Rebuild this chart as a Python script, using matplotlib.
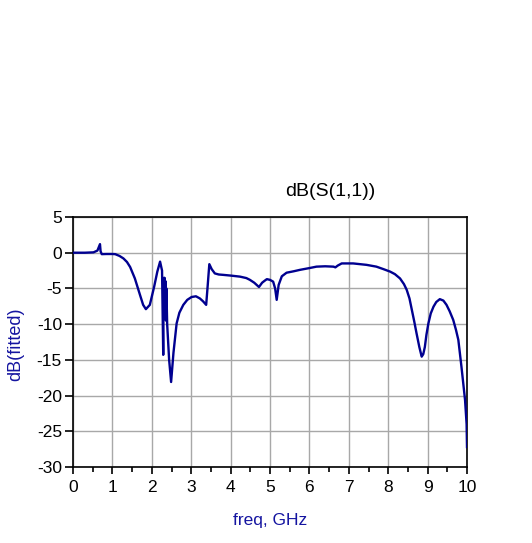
import matplotlib
matplotlib.use("Agg")
import matplotlib.pyplot as plt
from matplotlib.ticker import MultipleLocator

plt.rcParams['font.family'] = ['Liberation Sans', 'DejaVu Sans']
plt.rcParams['axes.unicode_minus'] = False

freq_ghz = [0.0, 0.3, 0.52, 0.62, 0.685, 0.70, 0.73, 0.85, 1.0, 1.07, 1.18, 1.28, 1.37,
            1.45, 1.57, 1.70, 1.78, 1.85, 1.95, 2.06, 2.14, 2.21, 2.26, 2.29, 2.30,
            2.315, 2.32, 2.33, 2.34, 2.35, 2.36, 2.37, 2.39, 2.44, 2.49, 2.55, 2.63,
            2.7, 2.8, 2.9, 3.01, 3.12, 3.22, 3.3, 3.38, 3.42, 3.46, 3.52, 3.6, 3.7,
            3.81, 4.0, 4.24, 4.4, 4.49, 4.6, 4.72, 4.8, 4.87, 4.92, 5.0, 5.08, 5.13,
            5.17, 5.22, 5.30, 5.42, 5.6, 5.76, 6.0, 6.18, 6.4, 6.61, 6.66, 6.72,
            6.82, 7.11, 7.45, 7.7, 7.88, 8.05, 8.17, 8.30, 8.40, 8.47, 8.54, 8.60,
            8.66, 8.72, 8.79, 8.85, 8.89, 8.93, 8.97, 9.02, 9.08, 9.15, 9.22, 9.31,
            9.40, 9.48, 9.56, 9.65, 9.72, 9.78, 9.86, 9.95, 9.99, 10.0]
s11_db = [0.0, 0.0, 0.05, 0.3, 1.2, 0.2, -0.2, -0.18, -0.18, -0.2, -0.45, -0.8, -1.3,
          -2.0, -3.6, -5.9, -7.3, -7.9, -7.3, -4.75, -2.65, -1.25, -2.5, -14.3, -5.0,
          -3.5, -8.0, -3.6, -9.0, -4.0, -9.5, -5.0, -10.0, -15.0, -18.1, -14.0, -9.9,
          -8.4, -7.3, -6.6, -6.2, -6.1, -6.4, -6.8, -7.3, -4.5, -1.6, -2.3, -2.9, -3.05,
          -3.1, -3.2, -3.35, -3.55, -3.8, -4.2, -4.8, -4.2, -3.9, -3.7, -3.8, -4.05, -5.0,
          -6.6, -4.5, -3.3, -2.8, -2.6, -2.4, -2.15, -1.95, -1.9, -1.95, -2.05, -1.8,
          -1.5, -1.5, -1.7, -1.95, -2.3, -2.65, -3.0, -3.6, -4.4, -5.2, -6.4, -8.0,
          -9.6, -11.3, -13.2, -14.55, -14.2, -13.2, -11.5, -9.9, -8.5, -7.55, -6.9, -6.5,
          -6.7, -7.3, -8.2, -9.4, -10.8, -12.2, -16.0, -20.6, -24.0, -27.2]

title_text = "dB(S(1,1))"
x_label = "freq, GHz"
y_label = "dB(fitted)"

W, H = 532, 543
fig = plt.figure(figsize=(W / 100, H / 100), dpi=100)
ax = fig.add_axes([73 / W, 1 - 467 / H, (467 - 73) / W, (467 - 217) / H])

line_color = '#000090'
ax.plot(freq_ghz, s11_db, color=line_color, lw=1.7, zorder=3)

ax.set_xlim(0, 10)
ax.set_ylim(-30, 5)
ax.xaxis.set_major_locator(MultipleLocator(1))
ax.xaxis.set_minor_locator(MultipleLocator(0.5))
ax.yaxis.set_major_locator(MultipleLocator(5))
ax.grid(True, which='major', color='#a8a8a8', lw=1.0)
ax.set_axisbelow(True)
for s in ax.spines.values():
    s.set_color('black')
    s.set_linewidth(1.2)

ax.tick_params(axis='x', which='major', direction='out', length=5, width=1.2,
               labelsize=12.5, pad=4, colors='black')
ax.tick_params(axis='x', which='minor', direction='out', length=3.5, width=1.2)
ax.tick_params(axis='y', which='major', direction='out', length=6, width=1.2,
               labelsize=12.5, pad=2, colors='black')

fig.text(330 / W, 1 - 191 / H, title_text, ha='center', va='center', fontsize=14, color='black')
fig.text(270 / W, 1 - 521 / H, x_label, ha='center', va='center', fontsize=12.5, color='#1414a0')
fig.text(16 / W, 1 - 344 / H, y_label, ha='center', va='center', rotation=90,
         fontsize=13, color='#1414a0')

fig.savefig('out.png', dpi=100, facecolor='white')
